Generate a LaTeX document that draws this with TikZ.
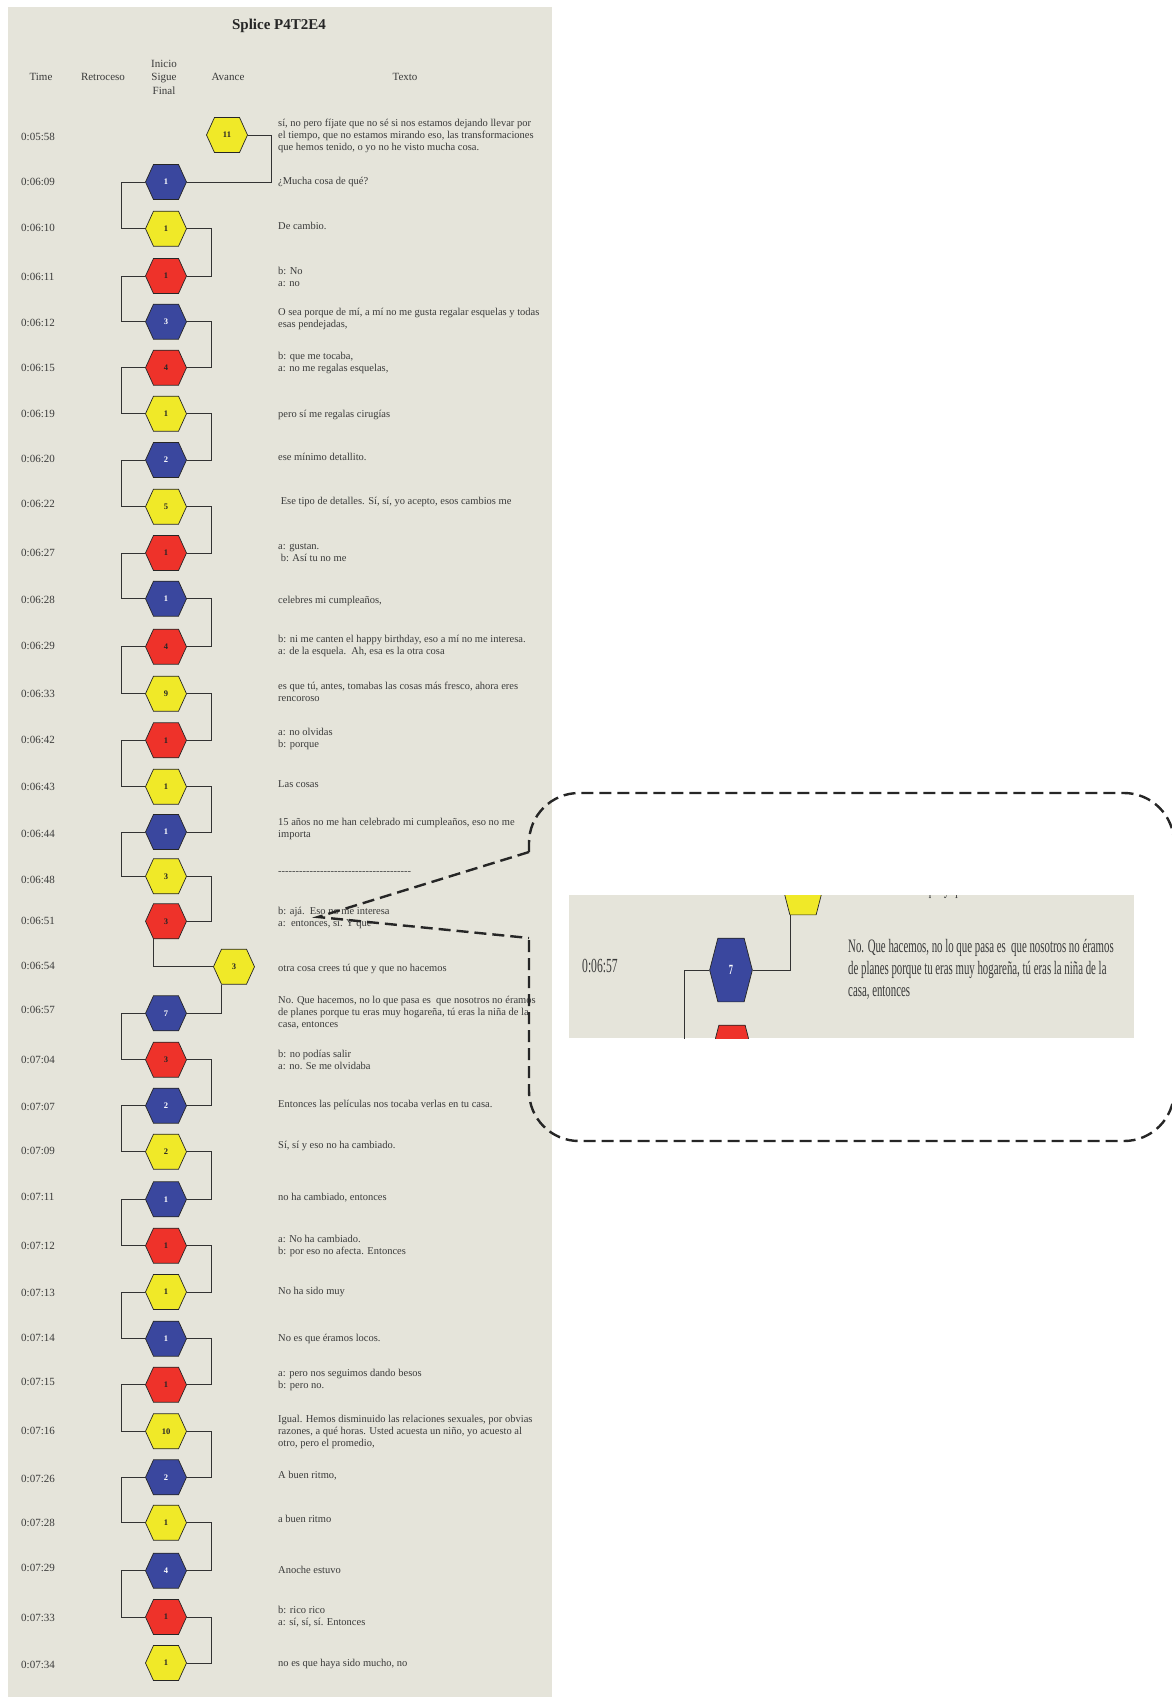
\documentclass[tikz,border=0pt]{standalone}
\usepackage{fontspec}
\setmainfont{Liberation Serif}
\usetikzlibrary{shapes.symbols}
\definecolor{panel}{HTML}{E5E4DA}
\definecolor{hy}{HTML}{F0E928}
\definecolor{hb}{HTML}{3A479E}
\definecolor{hr}{HTML}{EE322A}
\definecolor{txt}{HTML}{3A3A3A}
\tikzset{
  hex/.style={signal, signal to=east and west, signal pointer angle=131,
    minimum width=41pt, minimum height=35pt, inner sep=0pt,
    draw=black!85, line width=0.7pt, font=\fontsize{8.5}{8.5}\selectfont\bfseries},
  hexY/.style={hex, fill=hy, text=black!85},
  hexB/.style={hex, fill=hb, text=white},
  hexR/.style={hex, fill=hr, text=black!85},
  mhex/.style={hex, minimum width=42.7pt, minimum height=63.7pt, signal pointer angle=151,
    font=\fontsize{14}{14}\selectfont\bfseries},
  conn/.style={draw=black!80, line width=0.8pt},
  tlabel/.style={anchor=west, inner sep=0pt, font=\fontsize{11}{13}\selectfont, text=txt},
  ttext/.style={anchor=west, inner sep=0pt, align=left, font=\fontsize{10.5}{12}\selectfont, text=txt},
  hdr/.style={inner sep=0pt, align=center, font=\fontsize{11}{13.5}\selectfont, text=txt},
  callout/.style={draw=black!85, line width=2.4pt, dash pattern=on 12pt off 6pt},
}
\newcommand\trow[9]{%
  \node[tlabel] (t#1) at (21,#3) {#2};
  \node[#4] (h#1) at (#6,#7) {#5};
  \node[ttext] (x#1) at (278,#8) {#9};}
\newcommand\lft[2]{\draw[conn] (h#1.west) -- ++(-24,0) |- (h#2.west);}
\newcommand\rgt[2]{\draw[conn] (h#1.east) -- ++(25,0) |- (h#2.east);}
\newcommand\hyl{-{}-{}-{}-{}-{}-{}-{}-{}-{}-{}-{}-{}-{}-{}-{}-{}-{}-{}-{}-{}-{}-{}-{}-{}-{}-{}-{}-{}-{}-{}-{}-{}-{}-{}-{}-{}-{}-{}}
\begin{document}
\begin{tikzpicture}[x=1pt,y=-1pt]
\useasboundingbox (0,0) rectangle (1171,1697);
\fill[white] (0,0) rectangle (1171,1697);
\fill[panel] (8,7) rectangle (552,1697);
% title and headers
\node[inner sep=0pt, font=\fontsize{15}{15}\selectfont\bfseries, text=black!85] (title) at (279,26) {Splice P4T2E4};
\node[hdr] (hTime) at (41,77) {Time};
\node[hdr] (hRet) at (103,77) {Retroceso};
\node[hdr] (hISF) at (164,77) {Inicio\\Sigue\\Final};
\node[hdr] (hAv) at (228,77) {Avance};
\node[hdr] (hTx) at (405,77) {Texto};
% rows
\trow{1}{0:05:58}{137}{hexY}{11}{227}{135}{136}{sí, no pero fíjate que no sé si nos estamos dejando llevar por\\el tiempo, que no estamos mirando eso, las transformaciones\\que hemos tenido, o yo no he visto mucha cosa.}
\trow{2}{0:06:09}{182}{hexB}{1}{166}{182}{182}{¿Mucha cosa de qué?}
\trow{3}{0:06:10}{228}{hexY}{1}{166}{228.7}{226}{De cambio.}
\trow{4}{0:06:11}{277}{hexR}{1}{166}{276}{277.3}{b: No\\a: no}
\trow{5}{0:06:12}{323}{hexB}{3}{166}{321.7}{318.7}{O sea porque de mí, a mí no me gusta regalar esquelas y todas\\esas pendejadas,}
\trow{6}{0:06:15}{368}{hexR}{4}{166}{367.7}{362.7}{b: que me tocaba,\\a: no me regalas esquelas,}
\trow{7}{0:06:19}{414}{hexY}{1}{166}{413.7}{414.7}{pero sí me regalas cirugías}
\trow{8}{0:06:20}{459}{hexB}{2}{166}{460}{457.3}{ese mínimo detallito.}
\trow{9}{0:06:22}{503.7}{hexY}{5}{166}{506.7}{502.3}{\ Ese tipo de detalles. Sí, sí, yo acepto, esos cambios me}
\trow{10}{0:06:27}{553}{hexR}{1}{166}{553}{552.2}{a: gustan.\\\ b: Así tu no me}
\trow{11}{0:06:28}{600.3}{hexB}{1}{166}{598.7}{600.7}{celebres mi cumpleaños,}
\trow{12}{0:06:29}{646}{hexR}{4}{166}{646.7}{645.7}{b: ni me canten el happy birthday, eso a mí no me interesa.\\a: de la esquela.\ \ Ah, esa es la otra cosa}
\trow{13}{0:06:33}{694}{hexY}{9}{166}{693.7}{692.2}{es que tú, antes, tomabas las cosas más fresco, ahora eres\\rencoroso}
\trow{14}{0:06:42}{740}{hexR}{1}{166}{740.3}{738.7}{a: no olvidas\\b: porque}
\trow{15}{0:06:43}{787}{hexY}{1}{166}{786.7}{783.7}{Las cosas}
\trow{16}{0:06:44}{834}{hexB}{1}{166}{832}{829.2}{15 años no me han celebrado mi cumpleaños, eso no me\\importa}
\trow{17}{0:06:48}{880}{hexY}{3}{166}{876.3}{873.3}{\hyl}
\trow{18}{0:06:51}{921}{hexR}{3}{166}{921.3}{917.7}{b: ajá.\ \ Eso no me interesa\\a:\ \ entonces, sí. Y que}
\trow{19}{0:06:54}{966}{hexY}{3}{234}{966.7}{968.7}{otra cosa crees tú que y que no hacemos}
\trow{20}{0:06:57}{1010}{hexB}{7}{166}{1013.3}{1012.7}{No. Que hacemos, no lo que pasa es\ \ que nosotros no éramos\\de planes porque tu eras muy hogareña, tú eras la niña de la\\casa, entonces}
\trow{21}{0:07:04}{1060}{hexR}{3}{166}{1059.7}{1059.5}{b: no podías salir\\a: no. Se me olvidaba}
\trow{22}{0:07:07}{1107}{hexB}{2}{166}{1105.7}{1104.7}{Entonces las películas nos tocaba verlas en tu casa.}
\trow{23}{0:07:09}{1151}{hexY}{2}{166}{1151.7}{1146.3}{Sí, sí y eso no ha cambiado.}
\trow{24}{0:07:11}{1197}{hexB}{1}{166}{1199.3}{1197.7}{no ha cambiado, entonces}
\trow{25}{0:07:12}{1246}{hexR}{1}{166}{1245.7}{1245.5}{a: No ha cambiado.\\b: por eso no afecta. Entonces}
\trow{26}{0:07:13}{1293}{hexY}{1}{166}{1292}{1292}{No ha sido muy}
\trow{27}{0:07:14}{1338}{hexB}{1}{166}{1338.7}{1339.3}{No es que éramos locos.}
\trow{28}{0:07:15}{1382}{hexR}{1}{166}{1384.7}{1380.3}{a: pero nos seguimos dando besos\\b: pero no.}
\trow{29}{0:07:16}{1431.3}{hexY}{10}{166}{1431.3}{1431.7}{Igual. Hemos disminuido las relaciones sexuales, por obvias\\razones, a qué horas. Usted acuesta un niño, yo acuesto al\\otro, pero el promedio,}
\trow{30}{0:07:26}{1479.3}{hexB}{2}{166}{1477.3}{1476}{A buen ritmo,}
\trow{31}{0:07:28}{1523.3}{hexY}{1}{166}{1522.7}{1518.7}{a buen ritmo}
\trow{32}{0:07:29}{1568.3}{hexB}{4}{166}{1570.7}{1569.7}{Anoche estuvo}
\trow{33}{0:07:33}{1618}{hexR}{1}{166}{1617}{1616.5}{b: rico rico\\a: sí, sí, sí. Entonces}
\trow{34}{0:07:34}{1664.7}{hexY}{1}{166}{1663}{1663.7}{no es que haya sido mucho, no}
% connectors
\draw[conn] (h1.east) -- ++(24,0) |- (h2.east);
\lft{2}{3}\rgt{3}{4}\lft{4}{5}\rgt{5}{6}\lft{6}{7}\rgt{7}{8}\lft{8}{9}\rgt{9}{10}
\lft{10}{11}\rgt{11}{12}\lft{12}{13}\rgt{13}{14}\lft{14}{15}\rgt{15}{16}\lft{16}{17}\rgt{17}{18}
\draw[conn] ([xshift=-12.5pt]h18.south) |- (h19.west);
\draw[conn] ([xshift=-12.5pt]h19.south) |- (h20.east);
\lft{20}{21}\rgt{21}{22}\lft{22}{23}\rgt{23}{24}\lft{24}{25}\rgt{25}{26}\lft{26}{27}\rgt{27}{28}
\lft{28}{29}\rgt{29}{30}\lft{30}{31}\rgt{31}{32}\lft{32}{33}\rgt{33}{34}
% magnified view
\begin{scope}
\clip (569,895) rectangle (1134,1038);
\fill[panel] (569,895) rectangle (1134,1038);
\node[mhex, fill=hy] (zy) at (803,883) {};
\node[mhex, fill=hb, text=white] (z7) at (731,970) {\scalebox{0.6}[1]{7}};
\node[mhex, fill=hr] (zr) at (732,1057) {};
\draw[conn] (z7.east) -| ([xshift=-13pt]zy.south);
\draw[conn] (z7.west) -- ++(-25,0) |- (zr.west);
\node[anchor=west, inner sep=0pt, text=txt, font=\fontsize{20}{22}\selectfont] (zt) at (582,966) {\scalebox{0.58}[1]{0:06:57}};
\node[anchor=base west, inner sep=0pt, text=txt, font=\fontsize{19}{22}\selectfont] (zp) at (848,894) {\scalebox{0.57}[1]{otra cosa crees tú que y que no hacemos}};
\node[anchor=west, inner sep=0pt, text=txt, font=\fontsize{19}{22}\selectfont] (zx) at (848,970) {\scalebox{0.57}[1]{\begin{tabular}{@{}l@{}}No. Que hacemos, no lo que pasa es\ \ que nosotros no éramos\\de planes porque tu eras muy hogareña, tú eras la niña de la\\casa, entonces\end{tabular}}};
\end{scope}
% callout
\coordinate (tip) at (318,917);
\coordinate (cu) at (529,852);
\coordinate (cl) at (529,938);
\draw[callout, rounded corners=50pt] (cu) -- (529,793) -- (1174,793) -- (1174,1141) -- (529,1141) -- (cl);
\draw[callout] (cu) -- (tip) -- (cl);
\end{tikzpicture}
\end{document}
